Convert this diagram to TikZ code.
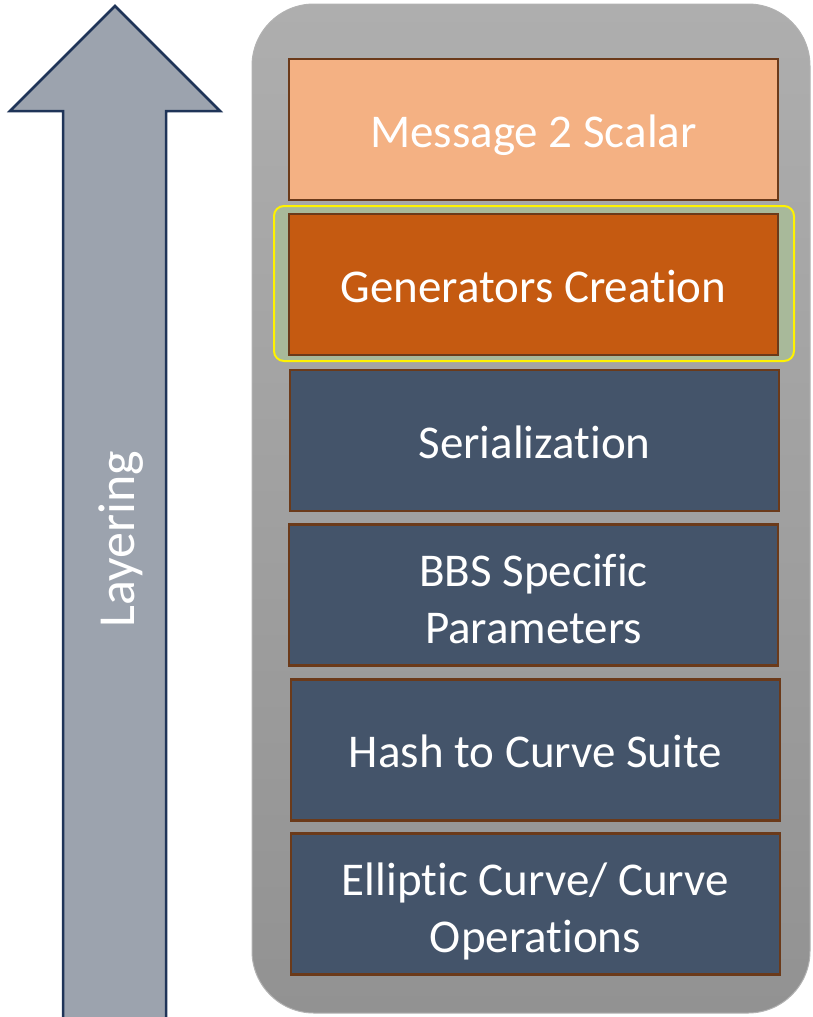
\documentclass[tikz,border=0pt]{standalone}
\usepackage{fontspec}
\setmainfont{Carlito}[Ligatures={NoCommon}]
\definecolor{arrowfill}{HTML}{9CA3AE}
\definecolor{arrowline}{HTML}{1F3458}
\definecolor{boxline}{HTML}{6B3A1A}
\definecolor{peach}{HTML}{F4B183}
\definecolor{rust}{HTML}{C55A11}
\definecolor{slate}{HTML}{44546A}
\definecolor{hl}{HTML}{A8B99A}
\definecolor{contTop}{HTML}{AEAEAE}
\definecolor{contBot}{HTML}{929292}
\tikzset{
  layer/.style={draw=boxline, line width=2.5pt, minimum width=489pt, minimum height=141pt,
    text=white, font=\fontsize{47}{57}\selectfont, align=center, inner sep=0pt,
    text height=35pt, text depth=0pt},
  twoline/.style={text height=96pt, text depth=0pt},
}
\begin{document}
\begin{tikzpicture}[x=1pt,y=-1pt]
\useasboundingbox (0,0) rectangle (812,1017);
% container
\shade[top color=contTop, bottom color=contBot, draw=gray!60, line width=1pt, rounded corners=62pt]
  (252,4) rectangle (810,1013);
% arrow
\draw[fill=arrowfill, draw=arrowline, line width=2.5pt, line join=miter]
  (115,6) -- (220,111) -- (166,111) -- (166,1030) -- (63,1030) -- (63,111) -- (10,111) -- cycle;
\node[rotate=90, anchor=base, text=white, font=\fontsize{52}{60}\selectfont, inner sep=0pt] (lay) at (134,539) {Layering};
% highlight
\draw[fill=hl, draw=yellow, line width=2pt, rounded corners=10pt] (274,206) rectangle (794,361);
% layers
\node[layer, fill=peach] (m2s) at (533.5,129.5) {Message 2 Scalar};
\node[layer, fill=rust] (gen) at (533.5,284.5) {Generators Creation};
\node[layer, fill=slate] (ser) at (534.5,440.5) {Serialization};
\node[layer, twoline, fill=slate] (bbs) at (533.5,595) {BBS Specific\\Parameters};
\node[layer, fill=slate] (h2c) at (535.5,750) {Hash to Curve Suite};
\node[layer, twoline, fill=slate] (ec) at (535.5,904) {Elliptic Curve/ Curve\\Operations};
\end{tikzpicture}
\end{document}
